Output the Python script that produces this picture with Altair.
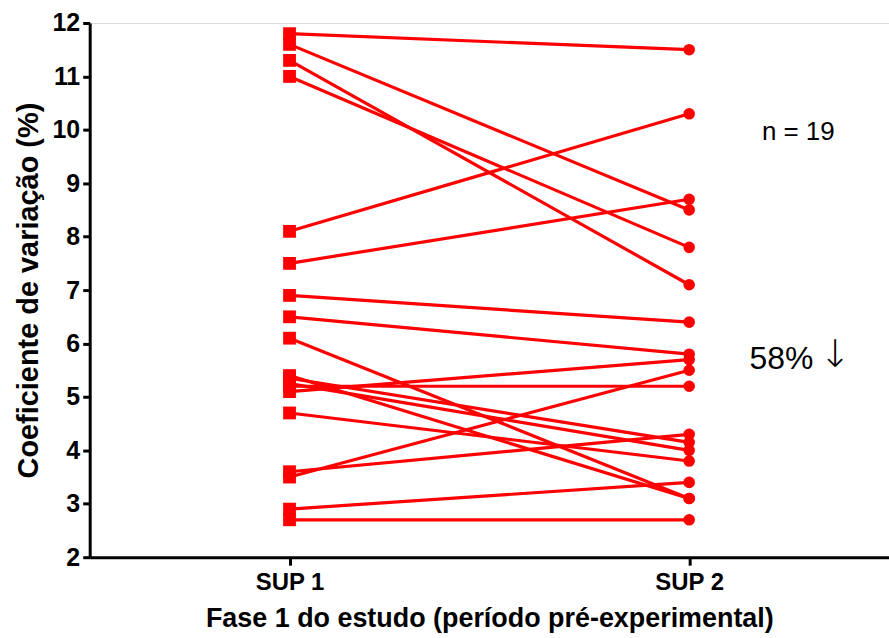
import altair as alt
import pandas as pd

subjects = list(range(1, 20))
sup1 = [11.8, 11.6, 11.3, 11.0, 8.1, 7.5, 6.9, 6.5, 6.1, 5.4, 5.35, 5.25, 5.2, 5.1, 4.7, 3.6, 3.5, 2.9, 2.7]
sup2 = [11.5, 8.5, 7.1, 7.8, 10.3, 8.7, 6.4, 5.8, 3.1, 3.1, 4.15, 4.0, 5.2, 5.7, 3.8, 4.3, 5.5, 3.4, 2.7]
times = ["SUP 1", "SUP 2"]
y_ticks = [2, 3, 4, 5, 6, 7, 8, 9, 10, 11, 12]
notes = ["n = 19", "58%", "↓"]

rows = []
for s, a, b in zip(subjects, sup1, sup2):
    rows.append({"id": s, "tempo": times[0], "cv": a})
    rows.append({"id": s, "tempo": times[1], "cv": b})
df = pd.DataFrame(rows)

FONT = "Liberation Sans"
RED = "#ff0000"

x_enc = alt.X("tempo:N", scale=alt.Scale(type="point", padding=0.5, domain=times),
              axis=alt.Axis(title="Fase 1 do estudo (período pré-experimental)",
                            labelAngle=0, domainColor="black", domainWidth=3,
                            tickColor="black", tickWidth=3, tickSize=8,
                            labelFont=FONT, labelFontSize=24, labelFontWeight="bold",
                            labelColor="black", labelPadding=5,
                            titleFont=FONT, titleFontSize=27, titleFontWeight="bold",
                            titleColor="black", titlePadding=12, grid=False))
y_enc = alt.Y("cv:Q", scale=alt.Scale(domain=[2, 12], nice=False, zero=False),
              axis=alt.Axis(title="Coeficiente de variação (%)", values=y_ticks,
                            domainColor="black", domainWidth=3,
                            tickColor="black", tickWidth=3, tickSize=7,
                            labelFont=FONT, labelFontSize=25, labelFontWeight="bold",
                            labelColor="black", labelPadding=3,
                            titleFont=FONT, titleFontSize=29, titleFontWeight="bold",
                            titleColor="black", titlePadding=9, grid=False))

lines = alt.Chart(df).mark_line(color=RED, strokeWidth=3.2).encode(
    x=x_enc, y=y_enc, detail="id:N"
)
points = alt.Chart(df).mark_point(filled=True, color=RED, opacity=1).encode(
    x=x_enc, y=y_enc,
    shape=alt.Shape("tempo:N", scale=alt.Scale(domain=times, range=["square", "circle"]), legend=None),
    size=alt.Size("tempo:N", scale=alt.Scale(domain=times, range=[165, 135]), legend=None),
)

ann = pd.DataFrame({"txt": notes})
t1 = alt.Chart(ann.iloc[[0]]).mark_text(font=FONT, fontSize=26, color="black", align="center", baseline="middle").encode(
    text="txt:N", x=alt.value(711), y=alt.value(109))
t2 = alt.Chart(ann.iloc[[1]]).mark_text(font=FONT, fontSize=32, color="black", align="left", baseline="middle").encode(
    text="txt:N", x=alt.value(662), y=alt.value(337))
t3 = alt.Chart(ann.iloc[[2]]).mark_text(font="DejaVu Sans", fontSize=38, fontWeight=300, color="black", align="left", baseline="middle").encode(
    text="txt:N", x=alt.value(732), y=alt.value(334))

chart = alt.layer(lines, points, t1, t2, t3).properties(
    width=802, height=536,
    autosize=alt.AutoSizeParams(type="none"),
    padding={"left": 90, "top": 22, "right": 0, "bottom": 80},
).configure_view(stroke=None).configure(background="white")

chart.save("out.html", embed_options={"renderer": "svg", "actions": False})
